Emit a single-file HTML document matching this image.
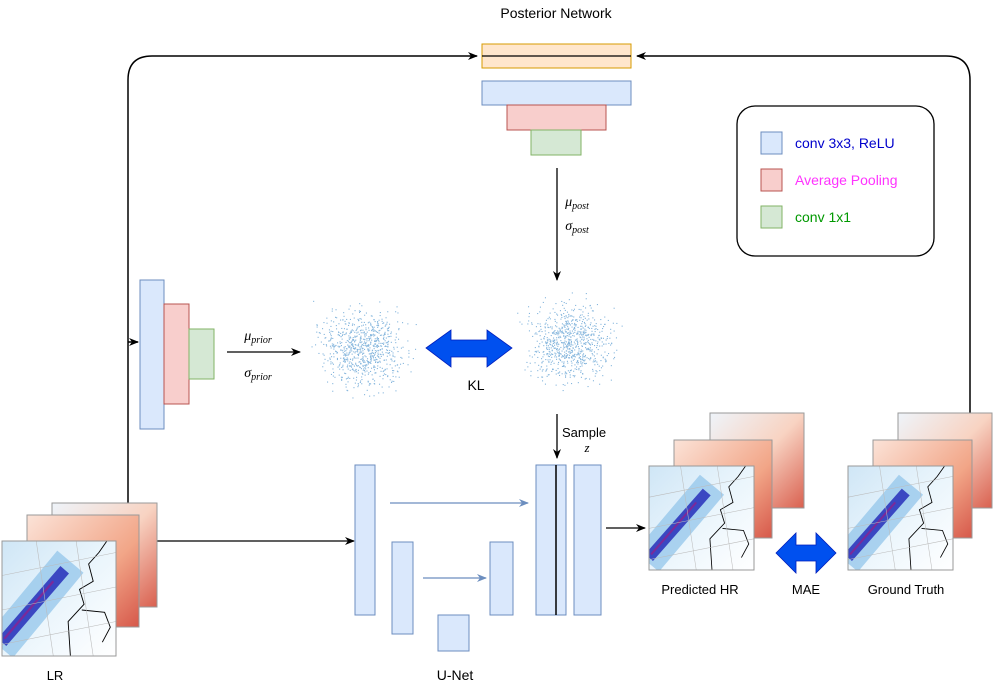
<!DOCTYPE html>
<html><head><meta charset="utf-8"><style>
html,body{margin:0;padding:0;background:#fff;}
svg{display:block;font-family:"Liberation Sans",sans-serif;}
</style></head><body>
<svg id="s" width="997" height="691" viewBox="0 0 997 691" xmlns="http://www.w3.org/2000/svg">
<defs>
<marker id="ah" markerWidth="10" markerHeight="10" refX="9" refY="5" orient="auto" markerUnits="userSpaceOnUse"><path d="M0,1 L10,5 L0,9 L3,5 Z" fill="#000"/></marker>
<marker id="ahb" markerWidth="10" markerHeight="10" refX="9" refY="5" orient="auto" markerUnits="userSpaceOnUse"><path d="M0,1 L10,5 L0,9 L3,5 Z" fill="#6c8ebf"/></marker>
<linearGradient id="red" x1="0" y1="0" x2="1" y2="1"><stop offset="0" stop-color="#fbe3d8"/><stop offset="0.6" stop-color="#f2a688"/><stop offset="1" stop-color="#d6584a"/></linearGradient>
<linearGradient id="red2" x1="0" y1="0" x2="1" y2="1"><stop offset="0" stop-color="#eef4fa"/><stop offset="0.5" stop-color="#f8d3c2"/><stop offset="1" stop-color="#d9604f"/></linearGradient>
<linearGradient id="blue" x1="0" y1="0" x2="1" y2="1"><stop offset="0" stop-color="#cfe6f6"/><stop offset="0.5" stop-color="#eaf5fc"/><stop offset="1" stop-color="#ffffff"/></linearGradient>
<g id="bandmap">
<rect x="0" y="0" width="100" height="100" fill="url(#blue)"/>
<path d="M-2,92 L60,18" stroke="#8ec3ea" stroke-width="30" opacity="0.7"/>
<path d="M0,88 L55,25" stroke="#3a47c2" stroke-width="10"/>
<path d="M2,85 L45,35" stroke="#7a2a9a" stroke-width="2"/>
<path d="M60,100 L58,70 L72,55 L68,42 L80,35 L76,20 L85,10 L92,0 M70,60 L90,62 L95,75 L88,88" fill="none" stroke="#000" stroke-width="0.8"/>
<path d="M0,30 L100,10 M0,60 L100,40 M0,90 L100,70 M30,0 L45,100 M65,0 L80,100" stroke="#bbb" stroke-width="0.5"/>
</g>
</defs>

<text x="556" y="18" font-size="14" text-anchor="middle">Posterior Network</text>

<path d="M128,503 V80 Q128,56 152,56 H477" fill="none" stroke="#000" stroke-width="1.5" marker-end="url(#ah)"/>
<path d="M128,342 L138,342" stroke="#000" stroke-width="1.5" marker-end="url(#ah)"/>
<path d="M970,413 V80 Q970,56 946,56 H637" fill="none" stroke="#000" stroke-width="1.5" marker-end="url(#ah)"/>
<path d="M557,168 V280" stroke="#000" stroke-width="1.3" marker-end="url(#ah)"/>
<path d="M557,414 V458" stroke="#000" stroke-width="1.3" marker-end="url(#ah)"/>
<path d="M227,352 H300" stroke="#000" stroke-width="1.3" marker-end="url(#ah)"/>
<path d="M157,541 H354" stroke="#000" stroke-width="1.3" marker-end="url(#ah)"/>
<path d="M606,528 H645" stroke="#000" stroke-width="1.3" marker-end="url(#ah)"/>
<path d="M390,503 H528" stroke="#6c8ebf" stroke-width="1.3" marker-end="url(#ahb)"/>
<path d="M423,578 H486" stroke="#6c8ebf" stroke-width="1.3" marker-end="url(#ahb)"/>

<rect x="482" y="44" width="149" height="24" fill="#ffe6cc" stroke="#d79b00"/>
<line x1="482" y1="56" x2="631" y2="56" stroke="#000" stroke-width="1.3"/>
<rect x="482" y="81" width="149" height="24" fill="#dae8fc" stroke="#6c8ebf"/>
<rect x="507" y="105" width="99" height="25" fill="#f8cecc" stroke="#b85450"/>
<rect x="531" y="130" width="50" height="25" fill="#d5e8d4" stroke="#82b366"/>
<text x="577" y="206" font-family="Liberation Serif" font-style="italic" font-size="14" text-anchor="middle">μ<tspan font-size="10" dy="3">post</tspan></text>
<text x="577" y="230" font-family="Liberation Serif" font-style="italic" font-size="14" text-anchor="middle">σ<tspan font-size="10" dy="3">post</tspan></text>

<rect x="140" y="280" width="24" height="149" fill="#dae8fc" stroke="#6c8ebf"/>
<rect x="164" y="304" width="25" height="100" fill="#f8cecc" stroke="#b85450"/>
<rect x="189" y="329" width="25" height="50" fill="#d5e8d4" stroke="#82b366"/>
<text x="258" y="340" font-family="Liberation Serif" font-style="italic" font-size="14" text-anchor="middle">μ<tspan font-size="10" dy="3">prior</tspan></text>
<text x="258" y="377" font-family="Liberation Serif" font-style="italic" font-size="14" text-anchor="middle">σ<tspan font-size="10" dy="3">prior</tspan></text>

<g id="dots1"></g><g id="dots2"></g>

<path d="M426,348 L451,330 L451,340 L487,340 L487,330 L512,348 L487,367 L487,357 L451,357 L451,367 Z" fill="#0050ef" stroke="#001dbc" stroke-width="0.8"/>
<text x="476" y="390" font-size="14" text-anchor="middle">KL</text>
<text x="562" y="437" font-size="13">Sample</text>
<text x="587" y="452" font-family="Liberation Serif" font-style="italic" font-size="13" text-anchor="middle">z</text>

<rect x="737" y="106" width="197" height="150" rx="18" fill="#fff" stroke="#000" stroke-width="1.3"/>
<rect x="761" y="132" width="21" height="22" fill="#dae8fc" stroke="#6c8ebf"/>
<rect x="761" y="169" width="21" height="22" fill="#f8cecc" stroke="#b85450"/>
<rect x="761" y="206" width="21" height="22" fill="#d5e8d4" stroke="#82b366"/>
<text x="795" y="148" font-size="14" fill="#0000cc">conv 3x3, ReLU</text>
<text x="795" y="185" font-size="14" fill="#ff33ff">Average Pooling</text>
<text x="795" y="222" font-size="14" fill="#009900">conv 1x1</text>

<rect x="355" y="465" width="20" height="150" fill="#dae8fc" stroke="#6c8ebf"/>
<rect x="392" y="542" width="21" height="92" fill="#dae8fc" stroke="#6c8ebf"/>
<rect x="438" y="615" width="31" height="36" fill="#dae8fc" stroke="#6c8ebf"/>
<rect x="490" y="542" width="23" height="73" fill="#dae8fc" stroke="#6c8ebf"/>
<rect x="536" y="465" width="30" height="150" fill="#dae8fc" stroke="#6c8ebf"/>
<line x1="556" y1="465" x2="556" y2="615" stroke="#000" stroke-width="1.5"/>
<rect x="574" y="465" width="27" height="150" fill="#dae8fc" stroke="#6c8ebf"/>
<text x="455" y="680" font-size="14" text-anchor="middle">U-Net</text>

<g stroke="#999" stroke-width="1">
<rect x="52" y="503" width="105" height="104" fill="url(#red2)"/>
<rect x="27" y="515" width="112" height="112" fill="url(#red)"/>
</g>
<svg x="2" y="541" width="114" height="115" viewBox="0 0 100 100" preserveAspectRatio="none" overflow="hidden"><use href="#bandmap"/></svg>
<rect x="2" y="541" width="114" height="115" fill="none" stroke="#999"/>
<text x="55" y="680" font-size="13" text-anchor="middle">LR</text>

<g stroke="#999" stroke-width="1">
<rect x="710" y="413" width="94" height="95" fill="url(#red2)"/>
<rect x="674" y="440" width="98" height="98" fill="url(#red)"/>
<rect x="898" y="413" width="94" height="95" fill="url(#red2)"/>
<rect x="873" y="440" width="99" height="98" fill="url(#red)"/>
</g>
<svg x="649" y="466" width="105" height="104" viewBox="0 0 100 100" preserveAspectRatio="none" overflow="hidden"><use href="#bandmap"/></svg>
<rect x="649" y="466" width="105" height="104" fill="none" stroke="#999"/>
<svg x="848" y="466" width="105" height="104" viewBox="0 0 100 100" preserveAspectRatio="none" overflow="hidden"><use href="#bandmap"/></svg>
<rect x="848" y="466" width="105" height="104" fill="none" stroke="#999"/>
<path d="M776,553 L796,533 L796,545 L816,545 L816,533 L836,553 L816,573 L816,561 L796,561 L796,573 Z" fill="#0050ef" stroke="#001dbc" stroke-width="0.8"/>
<text x="700" y="594" font-size="13" text-anchor="middle">Predicted HR</text>
<text x="806" y="594" font-size="13" text-anchor="middle">MAE</text>
<text x="906" y="594" font-size="13" text-anchor="middle">Ground Truth</text>
</svg>
<script>
(function(){
var seed=7;function r(){seed=(seed*16807)%2147483647;return seed/2147483647;}
function g(){return (r()+r()+r()-1.5)*1.4;}
function cloud(id,cx,cy,n){var el=document.getElementById(id),s='';
for(var i=0;i<n;i++){var x=cx+g()*28,y=cy+g()*26;s+='<rect x="'+x.toFixed(1)+'" y="'+y.toFixed(1)+'" width="1.1" height="1.1" fill="#86b6dd"/>';}
el.innerHTML=s;}
cloud('dots1',362,348,800);cloud('dots2',570,343,800);
})();
</script>
</body></html>
